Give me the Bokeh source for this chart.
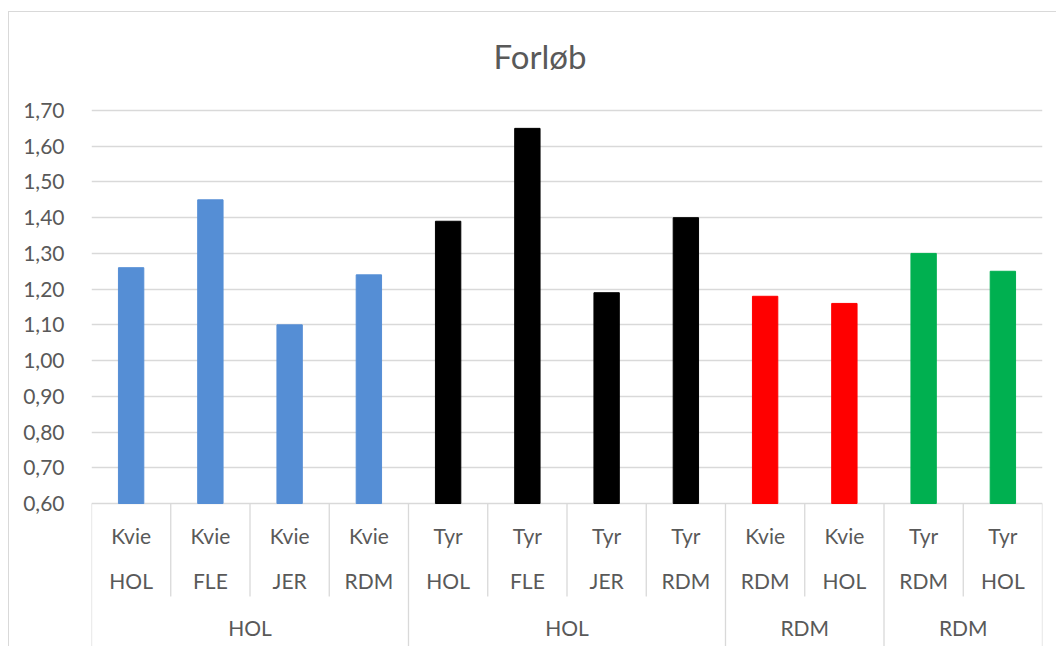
from bokeh.plotting import figure
from bokeh.models import (Range1d, FixedTicker, CustomJSTickFormatter, ColumnDataSource)
from bokeh.core.properties import value
from bokeh.embed import file_html
from bokeh.resources import INLINE

# ---- data ----
title_text = "Forløb"
group_labels = ["HOL", "HOL", "RDM", "RDM"]
group_sizes = [4, 4, 2, 2]
line1 = ["Kvie", "Kvie", "Kvie", "Kvie", "Tyr", "Tyr", "Tyr", "Tyr", "Kvie", "Kvie", "Tyr", "Tyr"]
line2 = ["HOL", "FLE", "JER", "RDM", "HOL", "FLE", "JER", "RDM", "RDM", "HOL", "RDM", "HOL"]
values = [1.26, 1.45, 1.10, 1.24, 1.39, 1.65, 1.19, 1.40, 1.18, 1.16, 1.30, 1.25]
group_colors = ["#558ED5", "#000000", "#FF0000", "#00B050"]
y_ticks = [0.6, 0.7, 0.8, 0.9, 1.0, 1.1, 1.2, 1.3, 1.4, 1.5, 1.6, 1.7]

# ---- layout constants ----
FONT = "Lato"
TXT = "#595959"
GRID = "#d9d9d9"
W, H = 1048, 635
top_gap_px = 98            # from figure top to the 1,70 line
y_min, y_max = y_ticks[0], y_ticks[-1]
px_per_unit = 393 / (y_max - y_min)
y_end = y_max + top_gap_px / px_per_unit
y_start = y_end - H / px_per_unit

n = len(values)
colors = []
for c, s in zip(group_colors, group_sizes):
    colors += [c] * s

p = figure(width=W, height=H, output_backend="svg", toolbar_location=None,
           x_range=Range1d(0, n), y_range=Range1d(y_start, y_end),
           x_axis_location=None, min_border_left=82, min_border_right=15,
           min_border_top=0, min_border_bottom=0)
p.styles = {"border-left": "1px solid #d9d9d9", "border-top": "1px solid #d9d9d9",
            "margin-top": "11px", "margin-left": "8px"}
p.outline_line_color = None
p.xgrid.visible = False
p.ygrid.grid_line_color = GRID
p.ygrid.grid_line_width = 1.3

# chart title, centred over the whole chart (slightly left of the plot centre)
p.text(x=[n / 2 - 27 / 79.3], y=[y_max], text=[title_text], y_offset=-55,
       text_align="center", text_baseline="middle", text_font=value(FONT),
       text_font_size="33px", text_color=TXT)

ax = p.yaxis[0]
ax.ticker = FixedTicker(ticks=y_ticks)
ax.formatter = CustomJSTickFormatter(code="return tick.toFixed(2).replace('.', ',');")
ax.axis_line_color = None
ax.major_tick_line_color = None
ax.minor_tick_line_color = None
ax.major_label_standoff = 21
ax.major_label_text_font = FONT
ax.major_label_text_font_size = "21px"
ax.major_label_text_color = TXT

xs = [i + 0.5 for i in range(n)]
src = ColumnDataSource(dict(x=xs, top=values, color=colors, l1=line1, l2=line2))
p.vbar(x="x", top="top", bottom=y_min, width=0.32, color="color", source=src)

# category axis (drawn below the 0,60 line)
inner_bottom = y_min - 93 / px_per_unit
bounds = [0]
for s in group_sizes:
    bounds.append(bounds[-1] + s)
inner_x = [i for i in range(1, n) if i not in bounds]
p.segment(x0=inner_x, y0=[y_min] * len(inner_x), x1=inner_x, y1=[inner_bottom] * len(inner_x),
          line_color=GRID, line_width=1.3)
p.segment(x0=bounds, y0=[y_min] * len(bounds), x1=bounds, y1=[y_start - 1] * len(bounds),
          line_color=GRID, line_width=1.3)

p.text(x="x", y=y_min, text="l1", source=src, y_offset=32, text_align="center",
       text_baseline="middle", text_font=value(FONT), text_font_size="21px", text_color=TXT)
p.text(x="x", y=y_min, text="l2", source=src, y_offset=77, text_align="center",
       text_baseline="middle", text_font=value(FONT), text_font_size="21px", text_color=TXT)
gx = [(bounds[i] + bounds[i + 1]) / 2 for i in range(len(group_sizes))]
p.text(x=gx, y=[y_min] * len(gx), text=group_labels, y_offset=124, text_align="center",
       text_baseline="middle", text_font=value(FONT), text_font_size="21px", text_color=TXT)

open("out.html", "w").write(file_html(p, INLINE))
